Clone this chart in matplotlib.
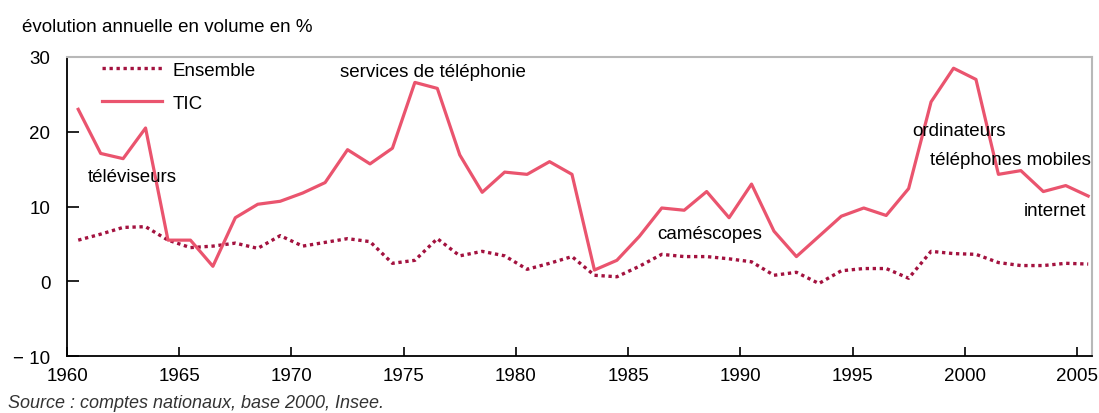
import numpy as np
import matplotlib
matplotlib.use('agg')
import matplotlib.pyplot as plt

plt.rcParams['font.family'] = ['Liberation Sans', 'DejaVu Sans']

years = np.arange(1960, 2006)

tic = [23.0, 17.1, 16.4, 20.5, 5.5, 5.5, 2.0, 8.5, 10.3, 10.7,
       11.8, 13.2, 17.6, 15.7, 17.8, 26.6, 25.8, 16.9, 11.9, 14.6,
       14.3, 16.0, 14.3, 1.5, 2.8, 6.0, 9.8, 9.5, 12.0, 8.5,
       13.0, 6.7, 3.3, 6.0, 8.7, 9.8, 8.8, 12.4, 24.0, 28.5,
       27.0, 14.3, 14.8, 12.0, 12.8, 11.4]

ensemble = [5.5, 6.3, 7.2, 7.3, 5.5, 4.5, 4.7, 5.1, 4.4, 6.1,
            4.7, 5.2, 5.7, 5.3, 2.4, 2.8, 5.7, 3.4, 4.0, 3.4,
            1.6, 2.4, 3.3, 0.8, 0.6, 2.0, 3.6, 3.3, 3.3, 3.0,
            2.6, 0.8, 1.2, -0.3, 1.4, 1.7, 1.7, 0.4, 4.0, 3.7,
            3.6, 2.5, 2.1, 2.1, 2.4, 2.3]

xticks = [1960, 1965, 1970, 1975, 1980, 1985, 1990, 1995, 2000, 2005]
yticks = [-10, 0, 10, 20, 30]
ylabels = ['\u2212 10', '0', '10', '20', '30']

# labels of the products driving the TIC peaks: (text, x, y, alignment)
notes = [('téléviseurs', 1960.94, 14.0, 'left'),
         ('services de téléphonie', 1972.17, 28.1, 'left'),
         ('caméscopes', 1986.3, 6.45, 'left'),
         ('ordinateurs', 1997.66, 20.2, 'left'),
         ('téléphones mobiles', 1998.46, 16.35, 'left'),
         ('internet', 2005.41, 9.5, 'right')]

fs = 13.5
c_tic = '#ea546e'
c_ens = '#a3123f'

fig = plt.figure(figsize=(10.99, 4.14), dpi=100)
ax = fig.add_axes([67/1099, 1 - 357/414, (1092-67)/1099, (357-58)/414])

# annual values drawn at mid-year
x = years + 0.5
ax.plot(x, ensemble, color=c_ens, lw=2.4, linestyle=(0, (1, 1.1)), label='Ensemble')
ax.plot(x, tic, color=c_tic, lw=2.3, label='TIC')

ax.set_xlim(1960, 2005.67)
ax.set_ylim(-10, 30)
ax.set_xticks(xticks)
ax.set_xticklabels([str(t) for t in xticks], fontsize=fs)
ax.set_yticks(yticks)
ax.set_yticklabels(ylabels, fontsize=fs)
ax.tick_params(axis='y', direction='in', length=8.5, width=1.2, pad=12)
ax.tick_params(axis='x', direction='in', length=6.5, width=1.2, pad=8)

for s in ['left', 'bottom']:
    ax.spines[s].set_color('black')
    ax.spines[s].set_linewidth(1.3)
for s in ['top', 'right']:
    ax.spines[s].set_color('#b8b8b8')
    ax.spines[s].set_linewidth(1.5)

for txt, tx, ty, ha in notes:
    ax.text(tx, ty, txt, fontsize=fs, ha=ha, va='center', color='black')

ax.legend(loc='upper left', bbox_to_anchor=(33/1025, 0.99), frameon=False,
          fontsize=fs, handlelength=3.2, handletextpad=0.55, labelspacing=0.85,
          borderpad=0.1, borderaxespad=0)

fig.text(22/1099, 1 - 28/414, 'évolution annuelle en volume en %', fontsize=fs,
         ha='left', va='center')
fig.text(8/1099, 1 - 404/414, 'Source : comptes nationaux, base 2000, Insee.',
         fontsize=13, style='italic', color='#333333', ha='left', va='center')

fig.savefig('out.png', dpi=100)
